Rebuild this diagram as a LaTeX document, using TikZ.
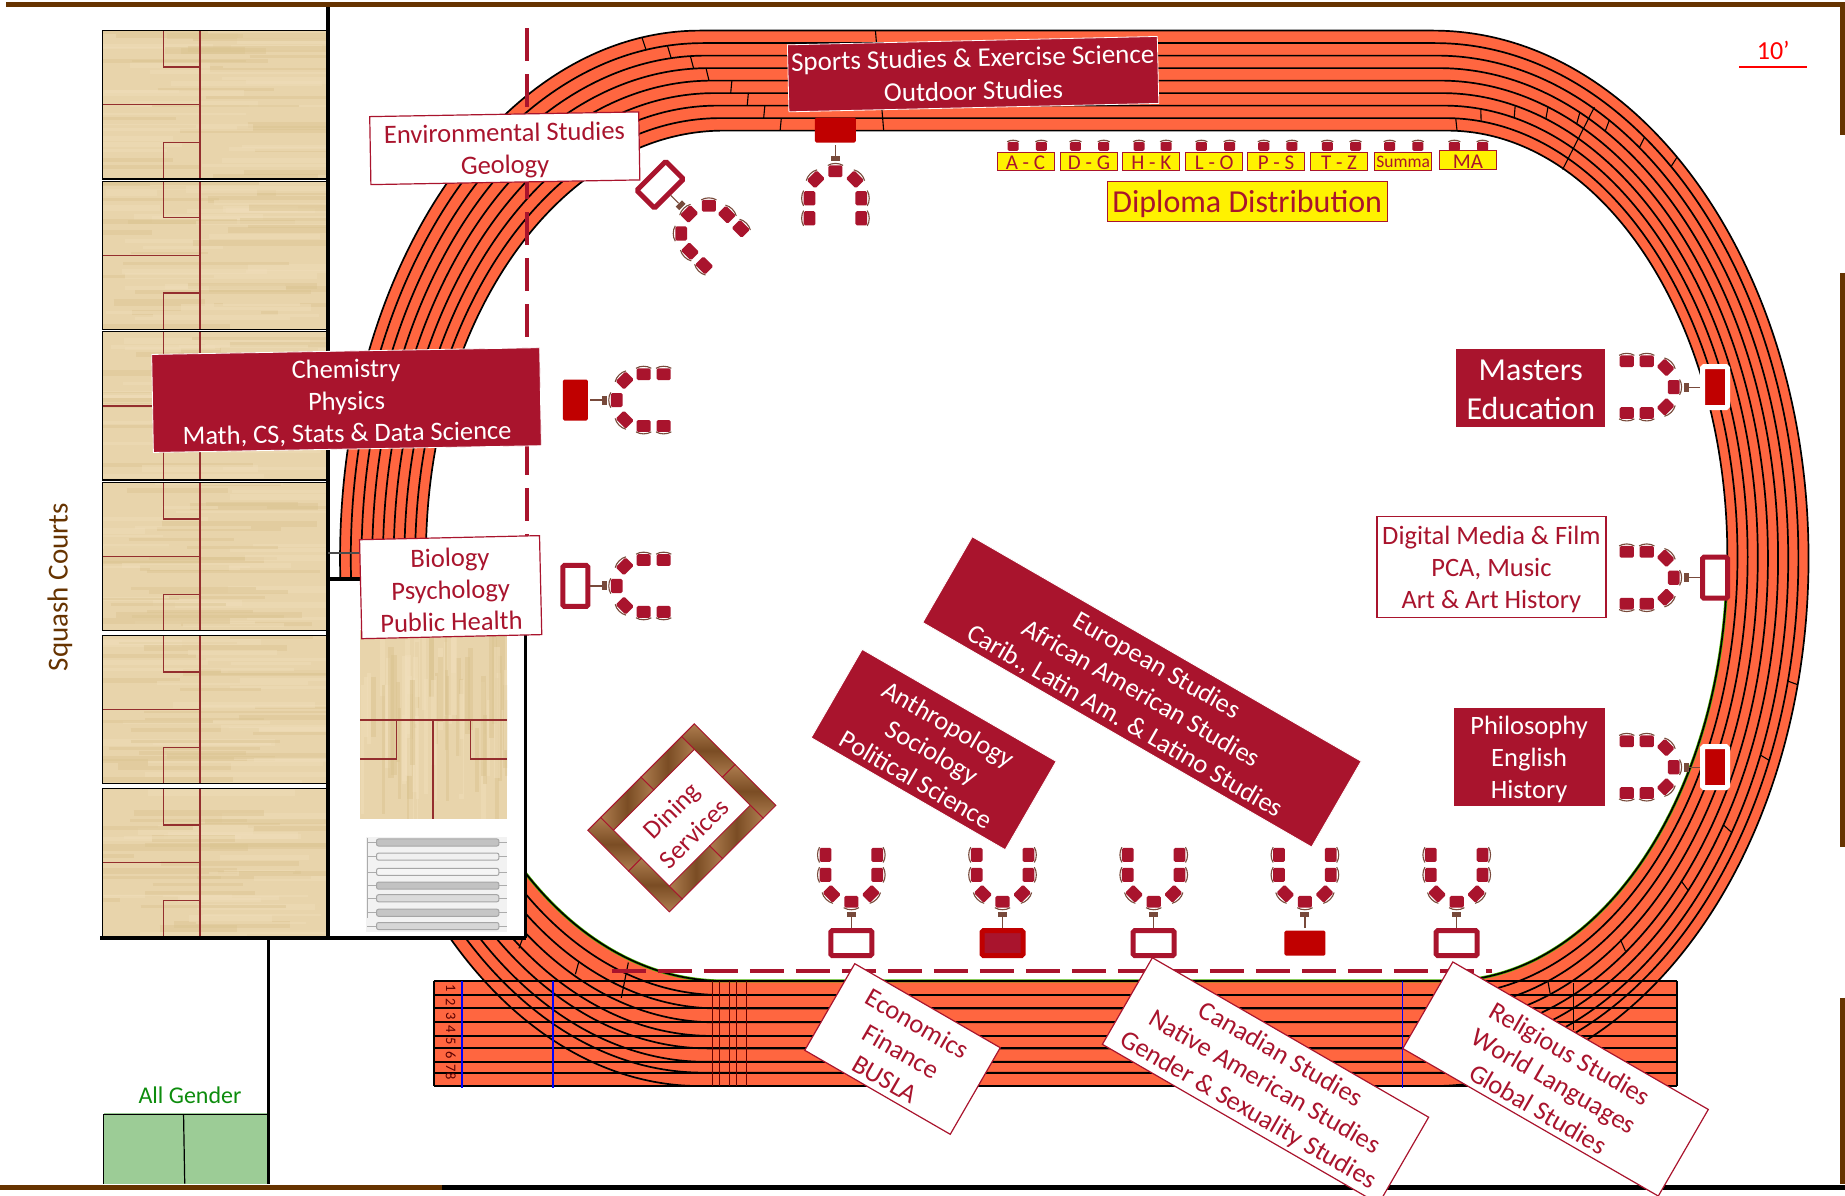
\documentclass[tikz,border=0pt]{standalone}
\usepackage{fontspec}
\setmainfont{Carlito}
\usetikzlibrary{calc,positioning}
\definecolor{garnet}{rgb}{0.663,0.078,0.176}
\definecolor{tablered}{rgb}{0.753,0,0}
\definecolor{trackorange}{rgb}{1,0.4,0.25}
\definecolor{wallbrown}{rgb}{0.4,0.2,0}
\definecolor{chairback}{rgb}{0.47,0.29,0.23}
\definecolor{woodbase}{rgb}{0.91,0.83,0.67}
\definecolor{woodstreak}{rgb}{0.86,0.77,0.57}
\definecolor{woodlight}{rgb}{0.94,0.87,0.73}
\definecolor{courtred}{rgb}{0.58,0.18,0.18}
\definecolor{framedark}{rgb}{0.48,0.3,0.14}
\definecolor{framelight}{rgb}{0.68,0.49,0.31}
\definecolor{restroomgreen}{rgb}{0.61,0.8,0.59}
\definecolor{labelgreen}{rgb}{0.05,0.55,0.05}
\newcommand{\topfix}{\rule{0pt}{0.88em}}
\newcommand{\lowfix}{\rule{0pt}{0.76em}}
\tikzset{
  chair/.pic={
    \fill[garnet,rounded corners=1.5pt] (-6,-4.5) rectangle (6,5.5);
    \draw[chairback,line width=1.1pt] (-6.5,-4.5) .. controls (-3,-6.8) and (3,-6.8) .. (6.5,-4.5);
  }
}
\begin{document}
\begin{tikzpicture}[x=1.17666pt,y=-1.17666pt]
  \useasboundingbox (0,0) rectangle (1568,1016);
  \tikzstyle{red_box}=[fill=garnet,draw=white,line width=0.8pt,text=white,align=center,inner sep=0pt,font=\fontsize{26.5}{32}\selectfont]
  \tikzstyle{white_box}=[fill=white,draw=garnet,line width=1.2pt,text=garnet,align=center,inner sep=0pt,font=\fontsize{26.5}{32}\selectfont]
  \tikzstyle{letter_box}=[fill=yellow,draw=garnet,line width=0.9pt,text=garnet,inner sep=0pt,minimum width=57pt,minimum height=18.5pt,font=\fontsize{21}{21}\selectfont]
  \tikzstyle{table_box}=[line width=5pt,rounded corners=1.5pt,inner sep=0pt,minimum width=41pt,minimum height=25pt]
  \tikzstyle{podium_bar}=[fill=chairback,inner sep=0pt,minimum width=9pt,minimum height=5pt]
  \tikzstyle{lane_line}=[black,line width=1.7pt]
  \tikzstyle{court_line}=[draw=courtred,line width=1.3pt]
  \tikzstyle{seam_line}=[draw=garnet,line width=0.9pt]

  % track
  \fill[trackorange] (595,26) -- (1218,26) arc[start angle=-90,end angle=90,x radius=319,y radius=448.5] -- (595,923) arc[start angle=90,end angle=270,x radius=306,y radius=448.5] -- cycle;
  \fill[trackorange] (369,833.7) rectangle (1425,923.5);
  \fill[white] (615,111) -- (1230,111) arc[start angle=-90,end angle=90,x radius=238,y radius=361.35] -- (615,833.7) arc[start angle=90,end angle=270,x radius=253,y radius=361.35] -- cycle;
  \draw[green!60!yellow!70!black,line width=3pt] (1468,472.35) arc[start angle=0,end angle=90,x radius=238,y radius=361.35] -- (615,833.7) arc[start angle=90,end angle=180,x radius=253,y radius=361.35];
  \foreach \i/\by in {0/923,1/911.6,2/902.4,3/891,4/880.4,5/868.8,6/857,7/845.6,8/833.7}
  {
    \pgfmathsetmacro\ty{26+\i*85/8}
    \pgfmathsetmacro\bb{(\by-\ty)/2}
    \pgfmathsetmacro\xr{1218+\i*12/8}
    \pgfmathsetmacro\ar{319-\i*81/8}
    \pgfmathsetmacro\xl{595+\i*20/8}
    \pgfmathsetmacro\al{306-\i*53/8}
    \draw[lane_line] (\xl,\ty) -- (\xr,\ty) arc[start angle=-90,end angle=90,x radius=\ar,y radius=\bb] -- (\xl,\by) arc[start angle=90,end angle=270,x radius=\al,y radius=\bb] -- cycle;
    \draw[black,line width=2.1pt] (369,\by) -- (1425,\by);
  }
  \draw[lane_line] (369,833.7) -- (369,923);
  \draw[lane_line] (1425,833.7) -- (1425,923);
  % stagger marks, right bend
  \foreach \i/\ang in {7/-88,6/-83,5/-76.6,4/-70.8,3/-65.4,2/-60.6,1/-54.8,0/-49.5,0/13.7,1/23,2/33,3/42.7,4/55.6,5/70}
  {
    \pgfmathsetmacro\j{\i+1}
    \draw[black,line width=1.1pt]
      ({1218+\i*1.5+(319-\i*10.125)*cos(\ang)},{475.5-\i*0.4375+(449.5-\i*11.06)*sin(\ang)}) --
      ({1218+\j*1.5+(319-\j*10.125)*cos(\ang)},{475.5-\j*0.4375+(449.5-\j*11.06)*sin(\ang)});
  }
  % stagger marks, left bend
  \foreach \i/\ang in {0/260.7,1/264.2,2/267.4,3/269.5}
  {
    \pgfmathsetmacro\j{\i+1}
    \draw[black,line width=1.1pt]
      ({595+\i*2.5+(306-\i*6.625)*cos(\ang)},{475.5-\i*0.4375+(449.5-\i*11.06)*sin(\ang)}) --
      ({595+\j*2.5+(306-\j*6.625)*cos(\ang)},{475.5-\j*0.4375+(449.5-\j*11.06)*sin(\ang)});
  }
  \foreach \xa/\ya/\xb/\yb in {622/68.5/621/79,636/79/635/90,650/90/649/100.5,664/100.5/663/111,744/26/751/111,1355/91/1328/144,1337/835/1337/875,444/798/441/806,492/817/489/828,534/818/528/848}
  {
    \draw[black,line width=1.1pt] (\xa,\ya) -- (\xb,\yb);
  }
  \foreach \x in {605,611,620,626,634}
  {
    \draw[red!40!black,line width=0.5pt] (\x,834) -- (\x,923);
  }
  \foreach \x in {392.8,469.7,1192}
  {
    \draw[blue,line width=1.8pt] (\x,834) -- (\x,925);
  }
  \foreach \s/\ny in {1/840,2/852,3/863.6,4/874.6,5/885,6/896.6,7/907.6,8/915}
  {
    \node[rotate=-90,text=red!35!black,inner sep=0pt,font=\fontsize{14.5}{14.5}\selectfont] (lane\s) at (383,\ny) {\s};
  }

  % squash courts
  \pgfmathsetseed{7}
  \foreach \s/\cy in {1/26,2/154,3/282,4/410,5/540,6/670}
  {
    \begin{scope}[shift={(87,\cy)}]
      \begin{scope}
        \clip (0,0) rectangle (191,126);
        \fill[woodbase] (0,0) rectangle (191,126);
        \foreach \k in {1,...,24}
        {
          \pgfmathsetmacro\sy{rnd*126}
          \pgfmathsetmacro\sx{rnd*170-40}
          \pgfmathsetmacro\sl{60+rnd*110}
          \pgfmathsetmacro\sw{2+rnd*5}
          \draw[woodstreak,opacity=0.45,line width=\sw pt] (\sx,\sy) -- ++(\sl,0);
          \pgfmathsetmacro\sy{rnd*126}
          \pgfmathsetmacro\sx{rnd*170-40}
          \draw[woodlight,opacity=0.45,line width=\sw pt] (\sx,\sy) -- ++(\sl,0);
        }
      \end{scope}
      \draw[court_line] (83,0) -- (83,126);
      \draw[court_line] (0,63) -- (83,63);
      \draw[court_line] (52,0) -- (52,31) -- (83,31);
      \draw[court_line] (52,126) -- (52,95) -- (83,95);
      \draw[black,line width=1.3pt] (0,0) rectangle (191,126);
    \end{scope}
  }
  \node[rotate=90,text=wallbrown,inner sep=0pt,font=\fontsize{29}{32}\selectfont] (squash) at (51,499) {Squash Courts};

  % side room
  \fill[white] (279,492) rectangle (447,797);
  \begin{scope}
    \clip (306,535) rectangle (431,696);
    \fill[woodbase] (306,535) rectangle (431,696);
    \foreach \k in {1,...,34}
    {
      \pgfmathsetmacro\sx{306+rnd*125}
      \pgfmathsetmacro\sy{510+rnd*120}
      \pgfmathsetmacro\sl{50+rnd*80}
      \pgfmathsetmacro\sw{2+rnd*4}
      \draw[woodstreak,opacity=0.5,line width=\sw pt] (\sx,\sy) -- ++(0,\sl);
      \pgfmathsetmacro\sx{306+rnd*125}
      \draw[woodlight,opacity=0.5,line width=\sw pt] (\sx,\sy) -- ++(0,\sl);
    }
  \end{scope}
  \draw[court_line] (368,696) -- (368,612);
  \draw[court_line] (306,612) -- (431,612);
  \draw[court_line] (337,612) -- (337,645) -- (306,645);
  \draw[court_line] (400,612) -- (400,645) -- (431,645);
  \fill[gray!10] (311,711) rectangle (431,792);
  \draw[gray!65,line width=0.8pt] (312,712) -- (312,780);
  \foreach \s/\ry/\rg in {1/716/48,2/728/12,3/741/8,4/752.7/48,5/763.4/28,6/775.7/45,7/787/32}
  {
    \draw[white,line width=5.5pt] (320,\ry) -- (424,\ry);
    \draw[gray!65,line width=0.8pt] (312,\ry) -- (431,\ry);
    \draw[fill=gray!\rg,draw=gray!70,line width=1pt,rounded corners=2pt] (320,{\ry-3}) rectangle (424,{\ry+3});
  }

  % walls
  \draw[black,line width=4pt] (279,6) -- (279,797);
  \draw[black,line width=4pt] (85,797) -- (447,797);
  \draw[black,line width=3pt] (447,492) -- (447,797);
  \draw[black,line width=3.5pt] (279,492) -- (320,492);
  \draw[black!70,line width=1.3pt] (279,470) -- (320,470);
  \fill[restroomgreen] (88,945.5) rectangle (228,1006);
  \draw[black,line width=1.2pt] (88,1006) -- (88,947) -- (228,947);
  \draw[black,line width=1.2pt] (156,947) -- (157,1006);
  \draw[black,line width=3pt] (228,797) -- (228,1006);
  \draw[wallbrown,line width=5.5pt] (5,4) -- (1568,4);
  \draw[wallbrown,line width=5.5pt] (1566,2) -- (1566,115);
  \draw[wallbrown,line width=5.5pt] (1566,232) -- (1566,720);
  \draw[wallbrown,line width=5.5pt] (1566,848) -- (1566,1006);
  \draw[black,line width=5pt] (376,1009) -- (1568,1009);
  \draw[wallbrown,line width=5pt] (0,1009) -- (376,1009);
  \node[text=labelgreen,inner sep=0pt,font=\fontsize{24}{24}\selectfont] (allgender) at (161.5,931) {All Gender};
  \node[text=red,inner sep=0pt,font=\fontsize{26}{26}\selectfont] (scale) at (1507,43) {10’};
  \draw[red,line width=1.3pt] (1478,57) -- (1536,57);

  % aisles
  \draw[garnet,line width=3.5pt,dash pattern=on 33pt off 13pt] (448,24) -- (448,456);
  \draw[garnet,line width=3.5pt,dash pattern=on 34pt off 12pt] (520,825) -- (1268,825);

  % seating groups
  \foreach \n/\gx/\gy/\grot/\tabfill/\tabdraw in {
    1/723.5/801.5/0/white/garnet,
    2/852/801.5/0/garnet/tablered,
    3/980.5/801.5/0/white/garnet,
    4/1109/801.5/0/tablered/none,
    5/1238/801.5/0/white/garnet,
    6/710/110.5/180/tablered/none,
    7/561/157/-135/white/garnet,
    8/489/340/-90/tablered/none,
    9/489/498/-90/white/garnet,
    10/1457.5/329/90/tablered/white,
    11/1457.5/491/90/white/garnet,
    12/1457.5/652/90/tablered/white}
  {
    \begin{scope}[shift={(\gx,\gy)},rotate=\grot,transform shape]
      \node[table_box,fill=\tabfill,draw=\tabdraw] (table\n) at (0,0) {};
      \node[podium_bar] (podium\n) at (0,-24.6) {};
      \draw[chairback,line width=1.2pt] (table\n) -- (podium\n);
      \foreach \cx/\cy/\crot in {0/-34.6/180,-17/-41.6/135,17/-41.6/-135,-22.5/-58/90,22.5/-58/-90,-22.5/-75/90,22.5/-75/-90}
      {
        \pic[rotate=\crot] at (\cx,\cy) {chair};
      }
    \end{scope}
  }

  % diploma tables
  \foreach \x in {861,885,914,938,968,991,1021,1045,1074,1098,1128,1152,1181,1205,1236,1260}
  {
    \pic[scale=0.78] at (\x,124) {chair};
  }
  \node[letter_box] (ac) at (871.5,137) {\lowfix A - C};
  \node[letter_box] (dg) at (925.5,137) {\lowfix D - G};
  \node[letter_box] (hk) at (978.5,137) {\lowfix H - K};
  \node[letter_box] (lo) at (1032,137) {\lowfix L - O};
  \node[letter_box] (ps) at (1084.5,137) {\lowfix P - S};
  \node[letter_box] (tz) at (1138,137) {\lowfix T - Z};
  \node[letter_box,font=\fontsize{17.5}{17.5}\selectfont] (summa) at (1192.5,137) {\lowfix Summa};
  \node[letter_box] (ma) at (1247.5,136) {\lowfix MA};
  \node[letter_box,minimum width=280pt,minimum height=40pt,line width=1.2pt,font=\fontsize{32}{32}\selectfont] (diploma) at (1060,171) {\topfix Diploma Distribution};

  % department labels
  \node[red_box,minimum width=370pt,minimum height=67pt,rotate=1.3,font=\fontsize{27}{33}\selectfont] (sports) at (827,63) {Sports Studies \& Exercise Science\\Outdoor Studies};
  \node[white_box,minimum width=269pt,minimum height=68pt,rotate=1] (env) at (429,126) {\topfix Environmental Studies\\Geology};
  \node[red_box,minimum width=388pt,minimum height=98pt,rotate=1] (chem) at (294.5,340) {\topfix Chemistry\\Physics\\Math, CS, Stats \& Data Science};
  \node[white_box,minimum width=180pt,minimum height=99pt,rotate=1.3] (bio) at (383,499) {\topfix Biology\\Psychology\\Public Health};
  \node[red_box,minimum width=150pt,minimum height=79pt,font=\fontsize{32}{39}\selectfont] (masters) at (1301,329.5) {\rule{0pt}{0.78em}Masters\\Education};
  \node[white_box,minimum width=229pt,minimum height=101pt] (digital) at (1267.5,482) {\topfix Digital Media \& Film\\PCA, Music\\Art \& Art History};
  \node[red_box,minimum width=152pt,minimum height=99pt] (phil) at (1299.5,643) {\topfix Philosophy\\English\\History};
  \node[red_box,minimum width=449pt,minimum height=99pt,rotate=-30] (euro) at (970.5,588) {\topfix European Studies\\African American Studies\\Carib., Latin Am. \& Latino Studies};
  \node[red_box,minimum width=224pt,minimum height=102pt,rotate=-30] (anth) at (793.5,637) {\topfix Anthropology\\Sociology\\Political Science};
  \node[white_box,minimum width=168pt,minimum height=100pt,rotate=-30] (econ) at (767,891.5) {\topfix Economics\\Finance\\BUSLA};
  \node[white_box,minimum width=319pt,minimum height=100pt,rotate=-30] (canada) at (1075.5,918.5) {\topfix Canadian Studies\\Native American Studies\\Gender \& Sexuality Studies};
  \node[white_box,minimum width=295pt,minimum height=100pt,rotate=-30] (relig) at (1322,917) {\topfix Religious Studies\\World Languages\\Global Studies};

  % dining
  \begin{scope}[shift={(579.5,695)},rotate=45,transform shape]
    \foreach \xa/\ya/\xb/\yb in {-64/-49/-48.6/0,-64/0/-48.6/49,48.6/-49/64/0,48.6/0/64/49}
    {
      \shade[top color=framelight,bottom color=framelight,middle color=framedark] (\xa,\ya) rectangle (\xb,\yb);
      \draw[seam_line] (\xa,\ya) rectangle (\xb,\yb);
    }
    \foreach \xa/\ya/\xb/\yb in {-48.6/-49/0/-33.6,0/-49/48.6/-33.6,-48.6/33.6/0/49,0/33.6/48.6/49}
    {
      \shade[left color=framelight,right color=framelight,middle color=framedark] (\xa,\ya) rectangle (\xb,\yb);
      \draw[seam_line] (\xa,\ya) rectangle (\xb,\yb);
    }
    \node[text=garnet,align=center,inner sep=0pt,font=\fontsize{26}{32}\selectfont] (dining) at (-2,1) {\topfix Dining\\Services};
  \end{scope}
\end{tikzpicture}
\end{document}
